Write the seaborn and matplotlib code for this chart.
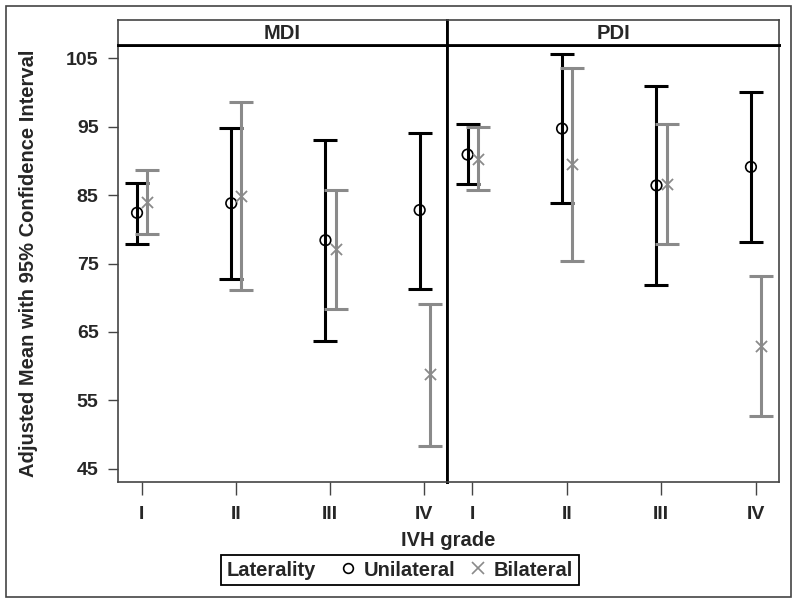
import numpy as np
import pandas as pd
import seaborn as sns
import matplotlib.pyplot as plt
from matplotlib.lines import Line2D
from matplotlib.patches import Rectangle
from matplotlib.offsetbox import HPacker

# IVH grades and the two outcome scales
grades = ['I', 'II', 'III', 'IV']
outcomes = ['MDI', 'PDI']
laterality = ['Unilateral', 'Bilateral']

# adjusted means and 95% CI
mdi_uni_mean = [82.4, 83.8, 78.4, 82.8]
mdi_uni_low = [77.8, 72.8, 63.7, 71.3]
mdi_uni_high = [86.8, 94.8, 93.0, 94.1]
mdi_bi_mean = [84.0, 84.9, 77.1, 58.8]
mdi_bi_low = [79.3, 71.1, 68.4, 48.4]
mdi_bi_high = [88.6, 98.6, 85.8, 69.1]

pdi_uni_mean = [90.9, 94.7, 86.4, 89.1]
pdi_uni_low = [86.6, 83.8, 71.8, 78.1]
pdi_uni_high = [95.3, 105.6, 100.9, 100.1]
pdi_bi_mean = [90.3, 89.5, 86.6, 63.0]
pdi_bi_low = [85.7, 75.4, 77.9, 52.7]
pdi_bi_high = [95.0, 103.6, 95.3, 73.2]

series = {
    ('MDI', 'Unilateral'): (mdi_uni_mean, mdi_uni_low, mdi_uni_high),
    ('MDI', 'Bilateral'): (mdi_bi_mean, mdi_bi_low, mdi_bi_high),
    ('PDI', 'Unilateral'): (pdi_uni_mean, pdi_uni_low, pdi_uni_high),
    ('PDI', 'Bilateral'): (pdi_bi_mean, pdi_bi_low, pdi_bi_high),
}

rows = []
for (outcome, lat), (m, lo, hi) in series.items():
    for g, a, b, c in zip(grades, m, lo, hi):
        rows.append({'Outcome': outcome, 'Laterality': lat, 'Grade': g,
                     'Mean': a, 'Lower': b, 'Upper': c})
df = pd.DataFrame(rows)

gray = '#8a8a8a'
style = {
    'Unilateral': dict(color='black', offset=-0.05),
    'Bilateral': dict(color=gray, offset=0.057),
}
df['pos'] = df['Grade'].map({g: i for i, g in enumerate(grades)}) + \
    df['Laterality'].map({k: v['offset'] for k, v in style.items()})

sns.set_theme(style='white')
plt.rcParams['font.family'] = ['Liberation Sans', 'DejaVu Sans']
plt.rcParams['font.weight'] = 'bold'

fig = plt.figure(figsize=(8, 6.03), dpi=100)
W, H = 800, 603
ax_l = fig.add_axes([118 / W, 1 - 482 / H, 329 / W, 437 / H])
ax_r = fig.add_axes([447 / W, 1 - 482 / H, 332 / W, 437 / H], sharey=ax_l)
axes = {'MDI': ax_l, 'PDI': ax_r}
xlims = {'MDI': (-0.252, 3.24), 'PDI': (-0.268, 3.247)}

for outcome, ax in axes.items():
    for lat in laterality:
        sub = df[(df['Outcome'] == outcome) & (df['Laterality'] == lat)]
        col = style[lat]['color']
        ax.errorbar(sub['pos'], sub['Mean'],
                    yerr=[sub['Mean'] - sub['Lower'], sub['Upper'] - sub['Mean']],
                    fmt='none', ecolor=col, elinewidth=2.2, capsize=8.6,
                    capthick=2.2, zorder=2)
        if lat == 'Unilateral':
            sns.scatterplot(data=sub, x='pos', y='Mean', ax=ax, marker='o', s=58,
                            facecolor='none', edgecolor='black', linewidth=1.2,
                            zorder=3, legend=False)
        else:
            sns.scatterplot(data=sub, x='pos', y='Mean', ax=ax, marker='x', s=64,
                            color=gray, linewidth=1.3, zorder=3, legend=False)

    ax.set_xlim(*xlims[outcome])
    ax.set_xticks(range(len(grades)))
    ax.set_xticklabels(grades)
    ax.set_xlabel('')
    ax.set_ylabel('')
    ax.tick_params(axis='x', bottom=True, length=9, width=1, color='#444',
                   pad=8, labelsize=14)
    for s in ['left', 'right', 'bottom']:
        ax.spines[s].set_color('#444')
        ax.spines[s].set_linewidth(1.2)
    ax.spines['top'].set_color('black')
    ax.spines['top'].set_linewidth(2)

    # header strip
    pos = ax.get_position()
    hx = fig.add_axes([pos.x0, pos.y1, pos.width, 25 / H])
    hx.set_xticks([])
    hx.set_yticks([])
    for s in hx.spines.values():
        s.set_color('#444')
        s.set_linewidth(1.2)
    hx.spines['bottom'].set_color('black')
    hx.spines['bottom'].set_linewidth(2)
    if outcome == 'MDI':
        hx.spines['right'].set_color('black')
        hx.spines['right'].set_linewidth(2)
    else:
        hx.spines['left'].set_color('black')
        hx.spines['left'].set_linewidth(2)
    hx.text(0.5, 0.45, outcome, ha='center', va='center', fontsize=14.5,
            fontweight='bold', transform=hx.transAxes)

ax_l.spines['right'].set_color('black')
ax_l.spines['right'].set_linewidth(2)
ax_r.spines['left'].set_color('black')
ax_r.spines['left'].set_linewidth(2)

ax_l.set_ylim(43.1, 106.9)
ax_l.set_yticks([45, 55, 65, 75, 85, 95, 105])
ax_l.tick_params(axis='y', left=True, length=7, width=1, color='#444',
                 pad=7, labelsize=14)
ax_r.tick_params(axis='y', left=False, labelleft=False)

ax_l.set_ylabel('Adjusted Mean with 95% Confidence Interval', fontsize=14.5,
                fontweight='bold')
ax_l.yaxis.set_label_coords(-0.243, 0.5)
fig.text(448.5 / W, 1 - 541 / H, 'IVH grade', ha='center', va='center',
         fontsize=14.5, fontweight='bold')

handles = [
    Line2D([], [], linestyle='none', marker='o', markerfacecolor='none',
           markeredgecolor='black', markersize=7, markeredgewidth=1.2),
    Line2D([], [], linestyle='none', marker='x', color=gray, markersize=8,
           markeredgewidth=1.2),
]
leg = fig.legend(handles, laterality, title='Laterality', ncol=2, loc='center',
                 bbox_to_anchor=(0.5, 1 - 570 / H), frameon=True, fancybox=False,
                 edgecolor='black', framealpha=1,
                 prop={'weight': 'bold', 'size': 14.5},
                 title_fontproperties={'weight': 'bold', 'size': 14.5},
                 handlelength=0.8, handletextpad=0.4, columnspacing=0.7,
                 borderpad=0.3)
leg.get_frame().set_linewidth(1.3)
# put the legend title to the left of the entries
old = leg._legend_box
box = HPacker(pad=4, sep=17, align='center', children=old.get_children())
box.set_figure(fig)
box.set_offset(leg._findoffset)
leg._legend_box = box

fig.add_artist(Rectangle((6 / W, 6 / H), 785 / W, 591 / H, transform=fig.transFigure,
                         fill=False, edgecolor='#444', linewidth=1.2))

fig.savefig('out.png', dpi=100)
